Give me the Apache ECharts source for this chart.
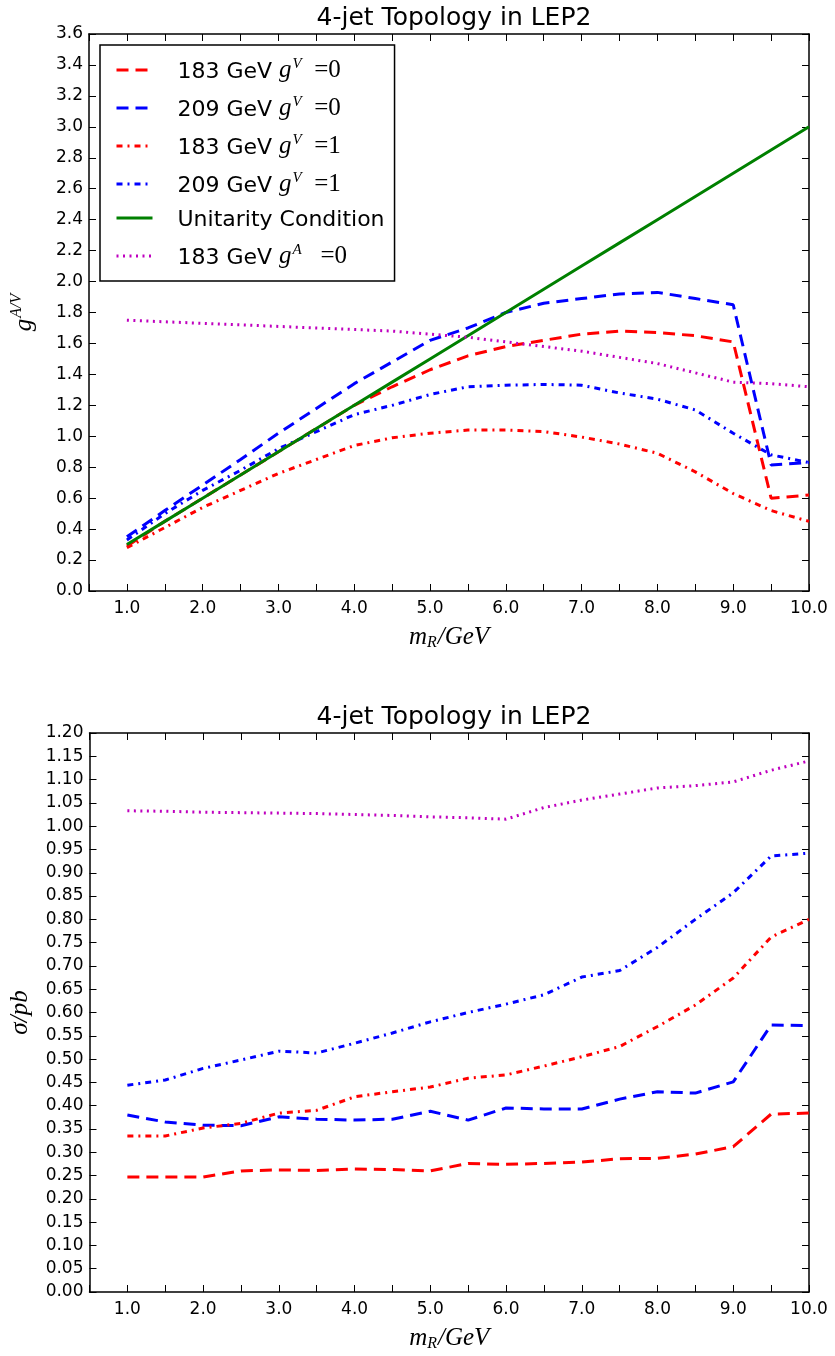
<!DOCTYPE html>
<html>
<head>
<meta charset="utf-8">
<script src="https://cdn.jsdelivr.net/npm/echarts@6/dist/echarts.min.js"></script>
<style>
html,body{margin:0;padding:0;background:#fff;}
#chart{width:835px;height:1356px;}
</style>
</head>
<body>
<div id="chart"></div>
<script>
// ---------- data ----------
const xValues = [1.0,1.5,2.0,2.5,3.0,3.5,4.0,4.5,5.0,5.5,6.0,6.5,7.0,7.5,8.0,8.5,9.0,9.5,10.0];

// top panel: couplings g^{A/V}
const top183gV0 = [0.29,0.45,0.60,0.75,0.90,1.05,1.20,1.32,1.43,1.52,1.58,1.62,1.66,1.68,1.67,1.65,1.61,0.60,0.62];
const top209gV0 = [0.35,0.52,0.685,0.85,1.02,1.18,1.34,1.48,1.62,1.70,1.80,1.86,1.89,1.92,1.93,1.89,1.85,0.815,0.83];
const top183gV1 = [0.28,0.41,0.54,0.65,0.76,0.85,0.94,0.99,1.02,1.04,1.04,1.03,0.995,0.95,0.89,0.77,0.63,0.52,0.45];
const top209gV1 = [0.33,0.50,0.65,0.78,0.92,1.03,1.14,1.20,1.27,1.32,1.33,1.335,1.33,1.28,1.24,1.17,1.02,0.88,0.83];
const topUnitarity = [0.30,0.45,0.60,0.75,0.90,1.05,1.20,1.35,1.50,1.65,1.80,1.95,2.10,2.25,2.40,2.55,2.70,2.85,3.00];
const top183gA0 = [1.75,1.74,1.73,1.72,1.71,1.70,1.69,1.68,1.66,1.64,1.61,1.58,1.55,1.51,1.47,1.41,1.35,1.34,1.32];

// bottom panel: cross sections sigma/pb
const bot183gV0 = [0.247,0.247,0.247,0.26,0.262,0.261,0.264,0.263,0.26,0.276,0.274,0.276,0.279,0.286,0.287,0.296,0.312,0.382,0.384];
const bot209gV0 = [0.38,0.365,0.358,0.357,0.376,0.371,0.369,0.371,0.388,0.369,0.395,0.393,0.393,0.414,0.43,0.427,0.451,0.573,0.572];
const bot183gV1 = [0.335,0.335,0.352,0.362,0.384,0.39,0.419,0.43,0.44,0.459,0.466,0.485,0.505,0.527,0.57,0.616,0.674,0.762,0.80];
const bot209gV1 = [0.444,0.455,0.48,0.498,0.517,0.513,0.534,0.556,0.58,0.60,0.618,0.638,0.676,0.69,0.74,0.80,0.857,0.936,0.942];
const bot183gA0 = [1.033,1.032,1.03,1.029,1.028,1.027,1.025,1.023,1.02,1.018,1.015,1.04,1.056,1.069,1.082,1.087,1.095,1.12,1.14];

const titleText = "4-jet Topology in LEP2";
const seriesNames = ["183 GeV gV=0","209 GeV gV=0","183 GeV gV=1","209 GeV gV=1","Unitarity Condition","183 GeV gA=0"];
const legendLabels = {
  "183 GeV gV=0": "{t|183 GeV }{m|g}{s|V}{r|  =0}",
  "209 GeV gV=0": "{t|209 GeV }{m|g}{s|V}{r|  =0}",
  "183 GeV gV=1": "{t|183 GeV }{m|g}{s|V}{r|  =1}",
  "209 GeV gV=1": "{t|209 GeV }{m|g}{s|V}{r|  =1}",
  "Unitarity Condition": "{t|Unitarity Condition}",
  "183 GeV gA=0": "{t|183 GeV }{m|g}{s|A}{r|   =0}"
};

// ---------- styles ----------
const RED = '#ff0000', BLUE = '#0000ff', GREEN = '#008000', MAG = '#bf00bf';
const DASH = [12, 7], DASHDOT = [6, 5, 2, 5], DOT = [2, 4.5];
const styleOf = {
  "183 GeV gV=0": {color: RED, type: DASH},
  "209 GeV gV=0": {color: BLUE, type: DASH},
  "183 GeV gV=1": {color: RED, type: DASHDOT},
  "209 GeV gV=1": {color: BLUE, type: DASHDOT},
  "Unitarity Condition": {color: GREEN, type: 'solid'},
  "183 GeV gA=0": {color: MAG, type: DOT}
};

function pairs(ys){ return xValues.map((x,i)=>[x, ys[i]]); }
function mkSeries(name, ys, axisIdx){
  const s = styleOf[name];
  return {
    name: name, type: 'line', data: pairs(ys),
    xAxisIndex: axisIdx, yAxisIndex: axisIdx,
    showSymbol: false, symbol: 'none', smooth: false,
    color: s.color,
    lineStyle: {color: s.color, width: 3, type: s.type, cap: 'butt'},
    emphasis: {disabled: true}
  };
}

const FONT = 'DejaVu Sans';
const MATH = 'Liberation Serif';
const tickLabel = {fontFamily: FONT, fontSize: 17, color: '#000'};
const axisLine = {show: true, onZero: false, lineStyle: {color: '#000', width: 1.5}};
const axisTick = {show: true, inside: true, length: 7, lineStyle: {color: '#000', width: 1}};

function xAxes(gridIndex){
  return [
    {type: 'value', gridIndex: gridIndex, position: 'bottom', min: 0.5, max: 10, interval: 0.5,
     axisLine: axisLine, axisTick: axisTick, splitLine: {show: false},
     axisLabel: Object.assign({margin: 9, formatter: v => (Math.abs(v - Math.round(v)) < 1e-9 ? v.toFixed(1) : '')}, tickLabel),
     name: '{i|m}{sub|R}{i|/GeV}', nameLocation: 'middle', nameGap: 34,
     nameTextStyle: {rich: {
       i: {fontFamily: MATH, fontStyle: 'italic', fontSize: 25, color: '#000', verticalAlign: 'top', lineHeight: 26},
       sub: {fontFamily: MATH, fontStyle: 'italic', fontSize: 16, color: '#000', verticalAlign: 'bottom', lineHeight: 14, padding: [14,1,0,0]}
     }}},
    {type: 'value', gridIndex: gridIndex, position: 'top', min: 0.5, max: 10, interval: 0.5,
     axisLine: axisLine, axisTick: axisTick, splitLine: {show: false}, axisLabel: {show: false}}
  ];
}
function yAxes(gridIndex, max, interval, digits, nameRich){
  return [
    {type: 'value', gridIndex: gridIndex, position: 'left', min: 0, max: max, interval: interval,
     axisLine: axisLine, axisTick: axisTick, splitLine: {show: false},
     axisLabel: Object.assign({margin: 6, formatter: v => v.toFixed(digits)}, tickLabel),
     name: nameRich.text, nameLocation: 'middle', nameGap: nameRich.gap, nameRotate: 90,
     nameTextStyle: {rich: nameRich.rich}},
    {type: 'value', gridIndex: gridIndex, position: 'right', min: 0, max: max, interval: interval,
     axisLine: axisLine, axisTick: axisTick, splitLine: {show: false}, axisLabel: {show: false}}
  ];
}

const gAVName = {
  text: '{g|g}{s|A/V}', gap: 52,
  rich: {
    g: {fontFamily: MATH, fontStyle: 'italic', fontSize: 25, color: '#000', verticalAlign: 'bottom', lineHeight: 28},
    s: {fontFamily: MATH, fontStyle: 'italic', fontSize: 16, color: '#000', verticalAlign: 'top', lineHeight: 14, padding: [0,0,12,1]}
  }
};
const sigmaName = {
  text: '{g|σ/pb}', gap: 55,
  rich: {
    g: {fontFamily: MATH, fontStyle: 'italic', fontSize: 25, color: '#000', lineHeight: 28}
  }
};

const legendRich = {
  t: {fontFamily: FONT, fontSize: 22, color: '#000', lineHeight: 26, verticalAlign: 'bottom'},
  m: {fontFamily: MATH, fontStyle: 'italic', fontSize: 25, color: '#000', lineHeight: 26, verticalAlign: 'bottom'},
  s: {fontFamily: MATH, fontStyle: 'italic', fontSize: 15, color: '#000', lineHeight: 14, verticalAlign: 'top', padding: [0,0,10,1]},
  r: {fontFamily: MATH, fontSize: 25, color: '#000', lineHeight: 26, verticalAlign: 'bottom'}
};

const series = [
  mkSeries(seriesNames[0], top183gV0, 0),
  mkSeries(seriesNames[1], top209gV0, 0),
  mkSeries(seriesNames[2], top183gV1, 0),
  mkSeries(seriesNames[3], top209gV1, 0),
  mkSeries(seriesNames[4], topUnitarity, 0),
  mkSeries(seriesNames[5], top183gA0, 0),
  mkSeries(seriesNames[0], bot183gV0, 2),
  mkSeries(seriesNames[1], bot209gV0, 2),
  mkSeries(seriesNames[2], bot183gV1, 2),
  mkSeries(seriesNames[3], bot209gV1, 2),
  mkSeries(seriesNames[5], bot183gA0, 2)
];
// top panel axes use index 0 (bottom/left) and 1 (top/right); bottom panel uses 2 and 3
const option = {
  animation: false,
  backgroundColor: '#fff',
  title: [
    {text: titleText, left: 449, textAlign: 'center', top: 1, textStyle: {fontFamily: FONT, fontSize: 25, fontWeight: 'normal', color: '#000'}},
    {text: titleText, left: 449, textAlign: 'center', top: 700, textStyle: {fontFamily: FONT, fontSize: 25, fontWeight: 'normal', color: '#000'}}
  ],
  grid: [
    {left: 89, top: 34, width: 720, height: 557},
    {left: 89, top: 733, width: 720, height: 559}
  ],
  xAxis: [...xAxes(0), ...xAxes(1)],
  yAxis: [...yAxes(0, 3.6, 0.2, 1, gAVName), ...yAxes(1, 1.2, 0.05, 2, sigmaName)],
  legend: {
    data: seriesNames,
    orient: 'vertical', left: 100, top: 45,
    backgroundColor: '#fff', borderColor: '#000', borderWidth: 1.5, borderRadius: 0,
    padding: [12, 10, 12, 15],
    itemWidth: 36, itemHeight: 14, itemGap: 12,
    selectedMode: false,
    itemStyle: {opacity: 0},
    lineStyle: {width: 3},
    formatter: name => legendLabels[name],
    textStyle: {padding: [0,0,0,20], rich: legendRich}
  },
  series: series
};
const chart = echarts.init(document.getElementById('chart'), null, {renderer: 'canvas'});
chart.setOption(option);
</script>
</body>
</html>
